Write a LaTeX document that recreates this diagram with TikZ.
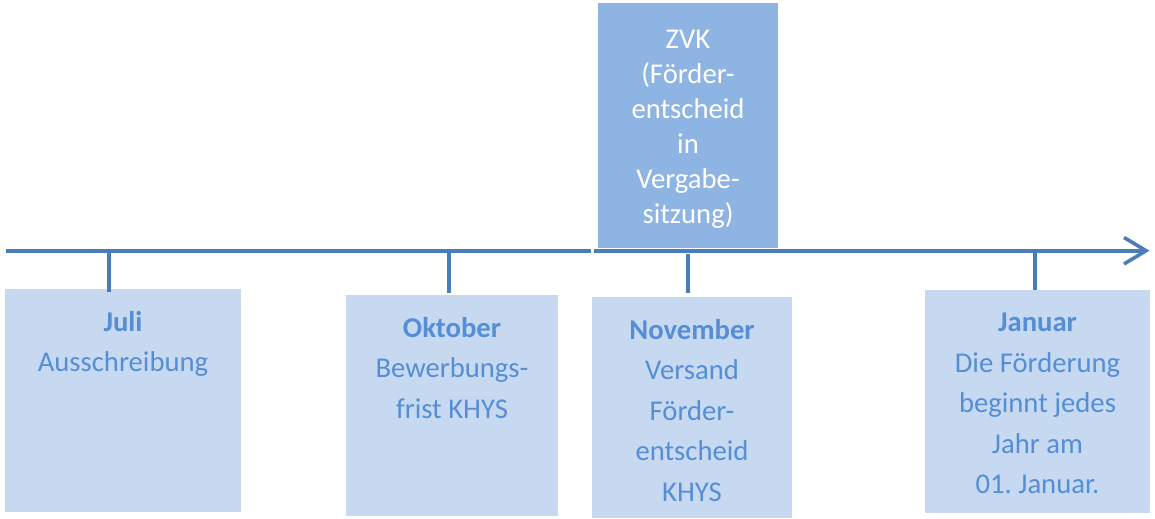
\documentclass[tikz,border=0pt]{standalone}
\usepackage{fontspec}
\setmainfont{Carlito}
\usetikzlibrary{fit}
\definecolor{linec}{HTML}{4A7EBB}
\definecolor{lowfill}{HTML}{C6D9F1}
\definecolor{topfill}{HTML}{8EB4E3}
\definecolor{txt}{HTML}{558ED5}
\newcommand\firstline{\rule{0pt}{20pt}}
\frenchspacing
\begin{document}
\begin{tikzpicture}[x=0.75pt,y=-0.75pt,
  lowbox/.style={fill=lowfill, draw=none, inner sep=0pt},
  topbox/.style={fill=topfill, draw=none, inner sep=0pt},
  lowtext/.style={anchor=north, inner sep=0pt, align=center, text=txt,
    font=\fontsize{21.5pt}{30.4pt}\selectfont\frenchspacing},
  toptext/.style={anchor=north, inner sep=0pt, align=center, text=white,
    font=\fontsize{21.5pt}{26.25pt}\selectfont\frenchspacing},
  axisline/.style={draw=linec, line width=2.7pt},
  tickline/.style={draw=linec, line width=2.7pt},
  headline/.style={draw=linec, line width=2.7pt, line join=miter}]
\useasboundingbox (0,0) rectangle (1155,518);

% boxes
\node[topbox, fit={(598,3) (778,248)}] (zvk) {};
\node[lowbox, fit={(5,289) (241,512)}] (juli) {};
\node[lowbox, fit={(346,295) (558,516)}] (okt) {};
\node[lowbox, fit={(592,297) (792,518)}] (nov) {};
\node[lowbox, fit={(925,290) (1150,513)}] (jan) {};

% texts
\node[toptext] (zvktext) at (688,21.3) {\firstline ZVK\\(Förder-\\entscheid\\in\\Vergabe-\\sitzung)};
\node[lowtext] (julitext) at (123,304.3) {\firstline\textbf{Juli}\\Ausschreibung};
\node[lowtext] (okttext) at (452,310.3) {\firstline\textbf{Oktober}\\Bewerbungs-\\frist KHYS};
\node[lowtext] (novtext) at (692,312.3) {\firstline\textbf{November}\\Versand\\Förder-\\entscheid\\KHYS};
\node[lowtext] (jantext) at (1037.5,304.8) {\firstline\textbf{Januar}\\Die Förderung\\beginnt jedes\\Jahr am\\01. Januar.};

% time axis
\coordinate (a0) at (6,250.7);
\coordinate (a1) at (591,250.7);
\coordinate (a2) at (594,250.7);
\coordinate (a3) at (1146,250.7);
\coordinate (h1) at (1124,237.5);
\coordinate (h2) at (1124,264);
\draw[axisline] (a0) -- (a1);
\draw[axisline] (a2) -- (a3);
\draw[headline] (h1) -- (a3) -- (h2);

% ticks
\coordinate (t1a) at (109,252);  \coordinate (t1b) at (109,292);
\coordinate (t2a) at (449,252);  \coordinate (t2b) at (449,293);
\coordinate (t3a) at (688,254);  \coordinate (t3b) at (688,293);
\coordinate (t4a) at (1035,252); \coordinate (t4b) at (1035,290);
\draw[tickline] (t1a) -- (t1b);
\draw[tickline] (t2a) -- (t2b);
\draw[tickline] (t3a) -- (t3b);
\draw[tickline] (t4a) -- (t4b);
\end{tikzpicture}
\end{document}
